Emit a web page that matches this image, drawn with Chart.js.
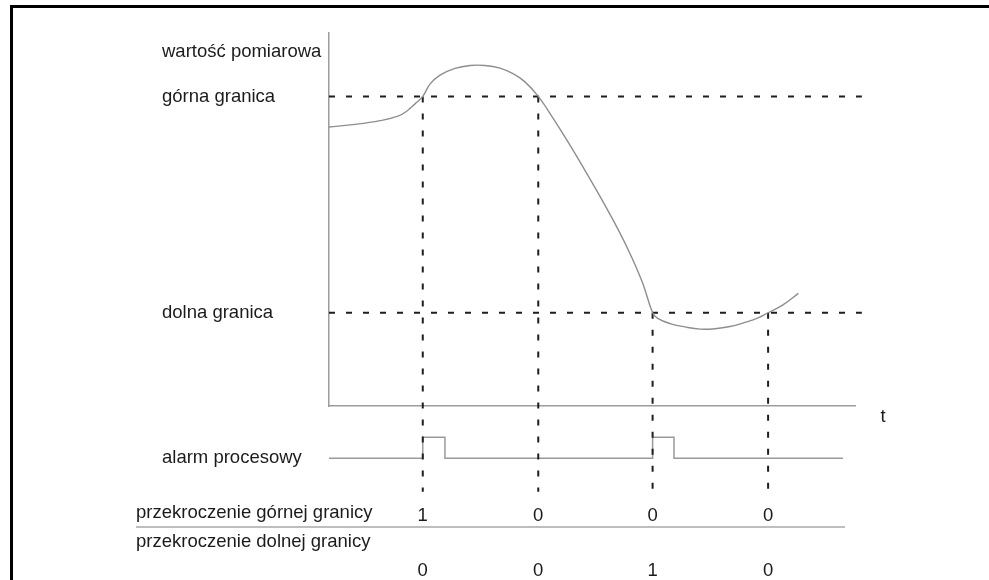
<!DOCTYPE html>
<html lang="pl">
<head>
<meta charset="utf-8">
<title>Alarm procesowy</title>
<script src="https://cdn.jsdelivr.net/npm/chart.js@4.4.1/dist/chart.umd.min.js"></script>
<style>
    html, body { margin: 0; padding: 0; background: #fff; overflow: hidden; }
    #frame {
        position: absolute; left: 10px; top: 5px; width: 1000px; height: 600px;
        border-left: 3px solid #000; border-top: 3px solid #000;
    }
    #processChart { position: absolute; left: 0; top: 0; }
</style>
</head>
<body>
<div id="frame"></div>
<canvas id="processChart" width="989" height="580"></canvas>
<script>
// measured value over time
const curveTimes  = [0, 2.27, 4.46, 6.03, 6.82, 7.52, 8.2, 8.83, 9.71, 11.02, 12.33, 13.64, 14.95, 16.09, 17.14, 18.3, 19.59, 20.9, 22.21, 23.7, 25.27, 26.5, 27.46, 28.3, 28.74, 29.82, 31.13, 32.45, 33.76, 35.07, 36.38, 37.52, 38.4, 39.7, 41.04];
const curveValues = [74.8, 75.5, 76.5, 77.7, 79.1, 81.0, 83, 86.3, 88.7, 90.5, 91.3, 91.3, 90.6, 89.1, 86.9, 83, 77.2, 70.8, 64.1, 56.2, 47.4, 39.7, 32.7, 25, 23.5, 22.1, 21.2, 20.6, 20.7, 21.3, 22.4, 23.6, 25, 27.1, 30.2];

// limits
const upperLimit = 83;
const lowerLimit = 25;
const valueLabelLevel = 95;
const limitSpan = [0, 46.6];

// limit crossings
const crossingTimes  = [8.2, 18.3, 28.3, 38.4];
const crossingLevels = [83, 83, 25, 25];
const markerBottom = -23;

// process alarm signal
const alarmTimes  = [0, 8.2, 8.2, 10.14, 10.14, 28.3, 28.3, 30.17, 30.17, 44.95];
const alarmValues = [0, 0, 1, 1, 0, 0, 1, 1, 0, 0];

// table below the chart
const rowLabels = ['przekroczenie górnej granicy', 'przekroczenie dolnej granicy'];
const upperExceeded = [1, 0, 0, 0];
const lowerExceeded = [0, 0, 1, 0];

const yLabels = {};
yLabels[valueLabelLevel] = 'wartość pomiarowa';
yLabels[upperLimit] = 'górna granica';
yLabels[lowerLimit] = 'dolna granica';
const alarmLabel = 'alarm procesowy';
const timeLabel = 't';

const FONT_FAMILY = '"Liberation Sans", Arial, Helvetica, sans-serif';
const FONT_SIZE = 18.5;
const TEXT_COLOR = '#1b1b1b';
const CURVE_COLOR = '#8e8e8e';
const AXIS_COLOR = '#9c9c9c';
const DASH_COLOR = '#1e1e1e';

function toPoints(xs, ys) {
    return xs.map((x, i) => ({ x: x, y: ys[i] }));
}

function limitLine(level) {
    return {
        data: limitSpan.map(t => ({ x: t, y: level })),
        borderColor: DASH_COLOR,
        borderWidth: 2,
        borderDash: [6, 11],
        pointRadius: 0,
        clip: false,
    };
}

function crossingLine(i) {
    return {
        data: [{ x: crossingTimes[i], y: crossingLevels[i] }, { x: crossingTimes[i], y: markerBottom }],
        borderColor: DASH_COLOR,
        borderWidth: 2,
        borderDash: [6, 11],
        pointRadius: 0,
        clip: false,
    };
}

// draws the time label and the table of crossing flags
const tablePlugin = {
    id: 'signalTable',
    afterDraw(chart) {
        const ctx = chart.ctx;
        const xScale = chart.scales.x;
        const yScale = chart.scales.y;
        ctx.save();
        ctx.font = FONT_SIZE + 'px ' + FONT_FAMILY;
        ctx.fillStyle = TEXT_COLOR;
        ctx.textBaseline = 'middle';

        ctx.textAlign = 'center';
        ctx.fillText(timeLabel, xScale.right + 28, yScale.getPixelForValue(0) + 11);

        ctx.textAlign = 'left';
        ctx.fillText(rowLabels[0], 136, 513);
        ctx.fillText(rowLabels[1], 136, 542);

        ctx.textAlign = 'center';
        crossingTimes.forEach((t, i) => {
            const px = xScale.getPixelForValue(t);
            ctx.fillText(String(upperExceeded[i]), px, 515.5);
            ctx.fillText(String(lowerExceeded[i]), px, 571);
        });

        ctx.strokeStyle = '#a8a8a8';
        ctx.lineWidth = 1.5;
        ctx.beginPath();
        ctx.moveTo(136, 527);
        ctx.lineTo(845, 527);
        ctx.stroke();
        ctx.restore();
    }
};

const ctx = document.getElementById('processChart').getContext('2d');

const datasets = [
    {
        data: toPoints(curveTimes, curveValues),
        borderColor: CURVE_COLOR,
        borderWidth: 1.4,
        pointRadius: 0,
        tension: 0.4,
        yAxisID: 'y',
    },
    limitLine(upperLimit),
    limitLine(lowerLimit),
];
crossingTimes.forEach((t, i) => datasets.push(crossingLine(i)));
datasets.push({
    data: toPoints(alarmTimes, alarmValues),
    borderColor: '#9a9a9a',
    borderWidth: 1.5,
    pointRadius: 0,
    yAxisID: 'yAlarm',
});

window.myChart = new Chart(ctx, {
    type: 'line',
    data: { datasets: datasets },
    plugins: [tablePlugin],
    options: {
        responsive: false,
        animation: false,
        layout: { padding: { left: 162, top: 33, right: 134, bottom: 80 } },
        plugins: {
            legend: { display: false },
            tooltip: { enabled: false },
        },
        scales: {
            x: {
                type: 'linear',
                min: 0,
                max: 46,
                position: { y: 0 },
                grid: { display: false },
                ticks: { display: false },
                border: { color: AXIS_COLOR, width: 1.5 },
            },
            y: {
                type: 'linear',
                min: 0,
                max: 100,
                position: 'left',
                stack: 'left',
                stackWeight: 373,
                weight: 2,
                grid: { display: false },
                border: { color: AXIS_COLOR, width: 1.5 },
                afterFit: (scale) => { scale.width = 167; },
                afterBuildTicks: (scale) => {
                    scale.ticks = [lowerLimit, upperLimit, valueLabelLevel].map(v => ({ value: v }));
                },
                ticks: {
                    autoSkip: false,
                    crossAlign: 'far',
                    color: TEXT_COLOR,
                    font: { family: FONT_FAMILY, size: FONT_SIZE },
                    callback: (value) => yLabels[value],
                },
            },
            yAlarm: {
                type: 'linear',
                min: -2,
                max: 2.5,
                position: 'left',
                stack: 'left',
                stackWeight: 94,
                weight: 1,
                grid: { display: false },
                border: { display: false },
                afterFit: (scale) => { scale.width = 167; },
                afterBuildTicks: (scale) => {
                    scale.ticks = [{ value: 0 }];
                },
                ticks: {
                    autoSkip: false,
                    crossAlign: 'far',
                    color: TEXT_COLOR,
                    font: { family: FONT_FAMILY, size: FONT_SIZE },
                    callback: () => alarmLabel,
                },
            },
        },
    },
});
</script>
</body>
</html>
